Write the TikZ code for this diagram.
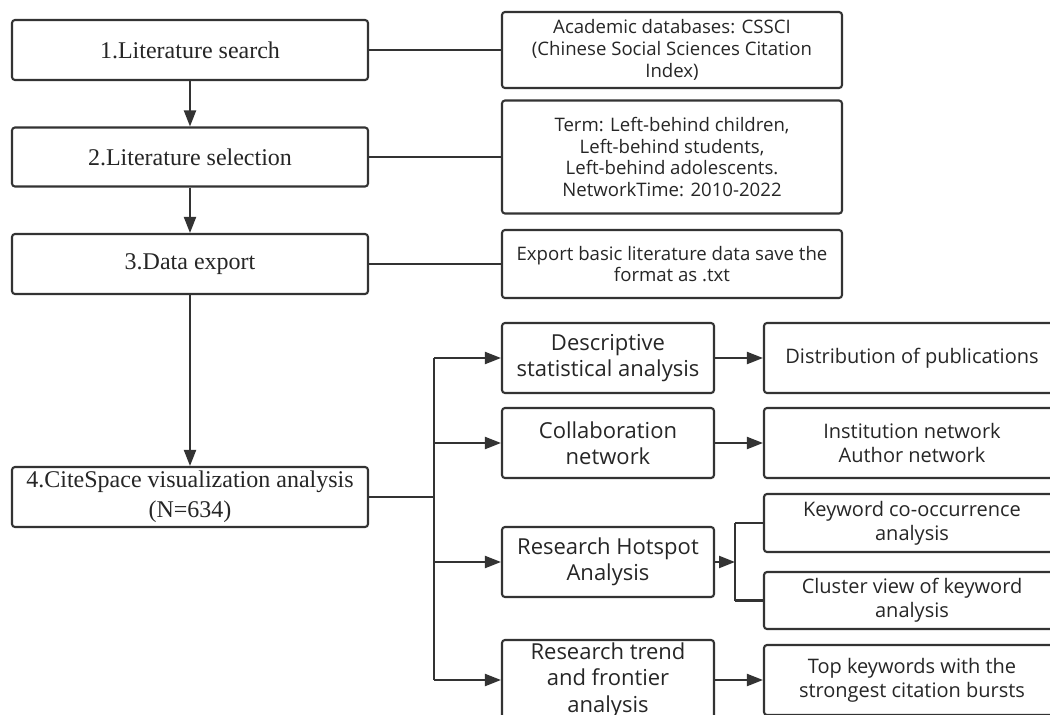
\documentclass[tikz,border=0pt]{standalone}
\usepackage{fontspec}
\setmainfont{Liberation Serif}
\newfontfamily\osans{Open Sans}
\usetikzlibrary{arrows.meta}
\definecolor{ln}{HTML}{333333}
\definecolor{tx}{HTML}{262626}
\tikzset{
  box/.style={draw=ln, line width=2.1pt, rounded corners=3pt, fill=white, text=tx, align=center, inner sep=0pt, anchor=center},
  leftbox/.style={box, minimum width=356pt, minimum height=60pt, font=\fontsize{24}{30}\selectfont},
  infobox/.style={box, minimum width=340pt, font=\osans\fontsize{18.6}{21.7}\selectfont},
  midbox/.style={box, minimum width=212pt, minimum height=70pt, font=\osans\fontsize{22}{26.5}\selectfont},
  rbox/.style={box, minimum width=296pt, font=\osans\fontsize{20}{23.7}\selectfont},
  conn/.style={draw=ln, line width=2.1pt},
  arr/.style={conn, -{Triangle[length=16pt,width=12pt]}},
}
\begin{document}
\begin{tikzpicture}[x=1pt,y=-1pt]
\useasboundingbox (0,0) rectangle (1050,715);
\clip (0,0) rectangle (1050,715);
\fill[white] (0,0) rectangle (1050,715);
% left column
\node[leftbox] (s1) at (190,50) {1.Literature search};
\node[leftbox, minimum height=59pt] (s2) at (190,157) {2.Literature selection};
\node[leftbox] (s3) at (190,264) {3.Data export};
\node[leftbox] (s4) at (190,497) {4.CiteSpace visualization analysis\\(N=634)};
% info boxes
\node[infobox, minimum height=76pt] (ia) at (672,50) {Academic databases: CSSCI\\(Chinese Social Sciences Citation\\Index)};
\node[infobox, minimum height=113pt] (ib) at (672,157) {Term: Left-behind children,\\Left-behind students,\\Left-behind adolescents.\\NetworkTime: 2010-2022};
\node[infobox, minimum height=68pt] (ic) at (672,264) {Export basic literature data save the\\format as .txt};
% middle column
\node[midbox] (m1) at (608,358) {Descriptive\\statistical analysis};
\node[midbox] (m2) at (608,443) {Collaboration\\network};
\node[midbox] (m3) at (608,562) {Research Hotspot\\Analysis};
\node[midbox, minimum height=80pt] (m4) at (608,680) {Research trend\\and frontier\\analysis};
% right column
\node[rbox, minimum height=70pt] (r1) at (912,358) {Distribution of publications};
\node[rbox, minimum height=70pt] (r2) at (912,443) {Institution network\\Author network};
\node[rbox, minimum height=58pt] (r3) at (912,523) {Keyword co-occurrence\\analysis};
\node[rbox, minimum height=57pt] (r4) at (912,600.5) {Cluster view of keyword\\analysis};
\node[rbox, minimum height=70pt] (r5) at (912,680) {Top keywords with the\\strongest citation bursts};
% connectors
\draw[conn] (s1.east) -- (ia.west);
\draw[conn] (s2.east) -- (ib.west);
\draw[conn] (s3.east) -- (ic.west);
\draw[arr] (s1.south) -- (s2.north);
\draw[arr] (s2.south) -- (s3.north);
\draw[arr] (s3.south) -- (s4.north);
\coordinate (br) at (434,497);
\coordinate (brtop) at (434,358);
\coordinate (brbot) at (434,680);
\draw[conn] (s4.east) -- (br);
\draw[conn] (brtop) -- (brbot);
\draw[arr] (brtop) -- (m1.west);
\draw[arr] (br |- m2.west) -- (m2.west);
\draw[arr] (br |- m3.west) -- (m3.west);
\draw[arr] (brbot) -- (m4.west);
\draw[arr] (m1.east) -- (r1.west);
\draw[arr] (m2.east) -- (r2.west);
\draw[arr] (m4.east) -- (r5.west);
\coordinate (hb) at (735,562);
\draw[arr] (m3.east) -- (hb);
\draw[conn] (hb |- r3.west) -- (hb |- r4.west);
\draw[conn] (hb |- r3.west) -- (r3.west);
\draw[conn] (hb |- r4.west) -- (r4.west);
\end{tikzpicture}
\end{document}
